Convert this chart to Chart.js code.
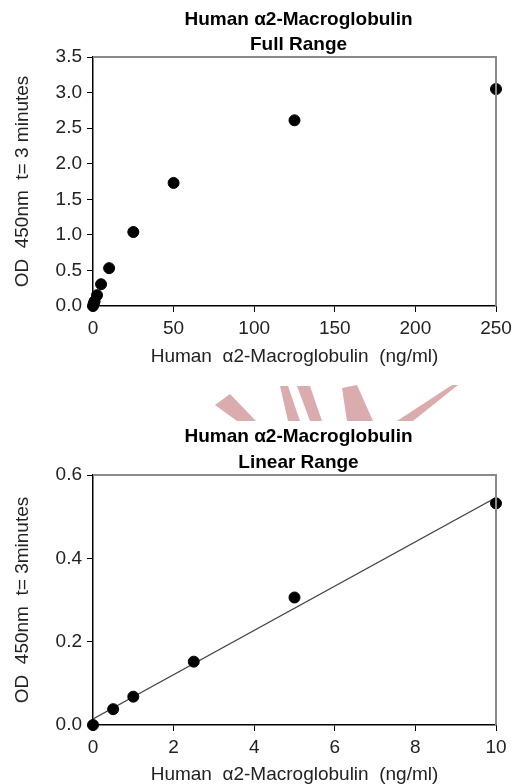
<!DOCTYPE html>
<html><head><meta charset="utf-8">
<script src="https://cdn.jsdelivr.net/npm/chart.js@4"></script>
<style>
html,body{margin:0;padding:0;background:#fff;overflow:hidden;width:517px;height:784px}
canvas{position:absolute;left:0}
#c1{top:0;width:517px;height:372px}
#wm{top:380px;width:517px;height:50px}
#c2{top:380px;width:517px;height:412px}
</style></head><body>
<canvas id="wm" width="517" height="50"></canvas>
<canvas id="c1" width="517" height="372"></canvas>
<canvas id="c2" width="517" height="412"></canvas>
<script>
// ---- data ----
const fullConc = [0, 0.5, 1, 2.5, 5, 10, 25, 50, 125, 250];
const fullOD   = [0, 0.038, 0.068, 0.152, 0.306, 0.532, 1.04, 1.73, 2.61, 3.05];
const linConc  = [0, 0.5, 1, 2.5, 5, 10];
const linOD    = [0, 0.038, 0.068, 0.152, 0.306, 0.532];
const fullXTicks = [0, 50, 100, 150, 200, 250];
const fullYTicks = [0, 0.5, 1.0, 1.5, 2.0, 2.5, 3.0, 3.5];
const linXTicks  = [0, 2, 4, 6, 8, 10];
const linYTicks  = [0, 0.2, 0.4, 0.6];
const title1 = ['Human \u03b12-Macroglobulin', 'Full Range'];
const title2 = ['Human \u03b12-Macroglobulin', 'Linear Range'];
const xTitle = 'Human  \u03b12-Macroglobulin  (ng/ml)';
const yTitle1 = 'OD  450nm  t= 3 minutes';
const yTitle2 = 'OD  450nm  t= 3minutes';

// least-squares trend line for the linear range
function fit(xs, ys) {
  const n = xs.length;
  const mx = xs.reduce((a, b) => a + b, 0) / n;
  const my = ys.reduce((a, b) => a + b, 0) / n;
  let sxy = 0, sxx = 0;
  for (let i = 0; i < n; i++) { sxy += (xs[i] - mx) * (ys[i] - my); sxx += (xs[i] - mx) ** 2; }
  const m = sxy / sxx;
  return { m, b: my - m * mx };
}
const lf = fit(linConc, linOD);
const trendX = [linXTicks[0], linXTicks[linXTicks.length - 1]];
const trendY = trendX.map(x => lf.b + lf.m * x);

const FONT = '"Liberation Sans", Arial, sans-serif';

const framePlugin = {
  id: 'frame',
  afterDatasetsDraw(chart) {
    const { ctx, chartArea: a } = chart;
    ctx.save();
    ctx.strokeStyle = '#8a8a8a';
    ctx.lineWidth = 2;
    ctx.beginPath();
    ctx.moveTo(a.left, a.top);
    ctx.lineTo(a.right, a.top);
    ctx.lineTo(a.right, a.bottom);
    ctx.stroke();
    ctx.restore();
  }
};
const titlePlugin = {
  id: 'twoLineTitle',
  afterDraw(chart, args, opts) {
    const { ctx, chartArea: a } = chart;
    ctx.save();
    ctx.fillStyle = '#000';
    ctx.font = 'bold 19px ' + FONT;
    ctx.textAlign = 'center';
    ctx.textBaseline = 'middle';
    const cx = (a.left + a.right) / 2 + 4;
    opts.lines.forEach((t, i) => ctx.fillText(t, cx, opts.ys[i]));
    ctx.restore();
  }
};

function makeChart(id, cfg) {
  const xs = cfg.xData, ys = cfg.yData;
  const datasets = [{
    type: 'scatter',
    data: xs.map((x, i) => ({ x, y: ys[i] })),
    backgroundColor: '#000', borderColor: '#000',
    pointRadius: 5.5, pointHoverRadius: 5.5, clip: false, order: 0
  }];
  if (cfg.trend) {
    datasets.push({
      type: 'line',
      data: cfg.trend.x.map((x, i) => ({ x, y: cfg.trend.y[i] })),
      borderColor: '#444', borderWidth: 1.2, pointRadius: 0, fill: false, order: 1
    });
  }
  const axisCommon = (ticks, title, titlePad, fmt) => ({
    type: 'linear',
    min: ticks[0], max: ticks[ticks.length - 1],
    afterBuildTicks: s => { s.ticks = ticks.map(v => ({ value: v })); },
    grid: { drawOnChartArea: false, drawTicks: true, tickLength: 6, tickColor: '#000', color: '#000', lineWidth: 1 },
    border: { display: true, color: '#000', width: 1.5 },
    ticks: { color: '#222', font: { family: FONT, size: 19 }, padding: 5, callback: fmt },
    title: { display: true, text: title, color: '#222', font: { family: FONT, size: 19 }, padding: titlePad }
  });
  const x = axisCommon(cfg.xTicks, xTitle, { top: 0, bottom: cfg.xTitlePad }, v => String(v));
  x.afterFit = s => { s.height = cfg.xHeight; };
  const y = axisCommon(cfg.yTicks, cfg.yTitle, { top: 11, bottom: 0 }, v => v.toFixed(1));
  y.afterFit = s => { s.width = 93; };
  return new Chart(document.getElementById(id), {
    type: 'scatter',
    data: { datasets },
    options: {
      responsive: false, animation: false,
      layout: { padding: { top: cfg.top, right: 21, left: 0, bottom: 0 } },
      plugins: { legend: { display: false }, tooltip: { enabled: false },
                 twoLineTitle: { lines: cfg.titles, ys: cfg.titleYs } },
      scales: { x, y }
    },
    plugins: [framePlugin, titlePlugin]
  });
}

makeChart('c1', {
  xData: fullConc, yData: fullOD, xTicks: fullXTicks, yTicks: fullYTicks,
  yTitle: yTitle1, titles: title1, titleYs: [20, 45],
  top: 57, xHeight: 372 - 306, xTitlePad: 4
});
makeChart('c2', {
  xData: linConc, yData: linOD, xTicks: linXTicks, yTicks: linYTicks,
  yTitle: yTitle2, titles: title2, titleYs: [57, 83],
  top: 95, xHeight: 412 - 345, xTitlePad: 6,
  trend: { x: trendX, y: trendY }
});

// faint watermark fragment between the two charts
(function () {
  const ctx = document.getElementById('wm').getContext('2d');
  ctx.fillStyle = 'rgb(218,172,174)';
  const shapes = [
    [[15,25],[30,14],[56,41],[37,41]],
    [[80,6],[88,6],[100,41],[88,41]],
    [[97,6],[110,6],[122,41],[110,41]],
    [[142,8],[157,5],[173,41],[147,41]],
    [[252,5],[258,5],[213,41],[197,41]]
  ];
  shapes.forEach(p => {
    ctx.beginPath();
    ctx.moveTo(p[0][0] + 200, p[0][1]);
    p.slice(1).forEach(q => ctx.lineTo(q[0] + 200, q[1]));
    ctx.closePath();
    ctx.fill();
  });
})();
</script>
</body></html>
